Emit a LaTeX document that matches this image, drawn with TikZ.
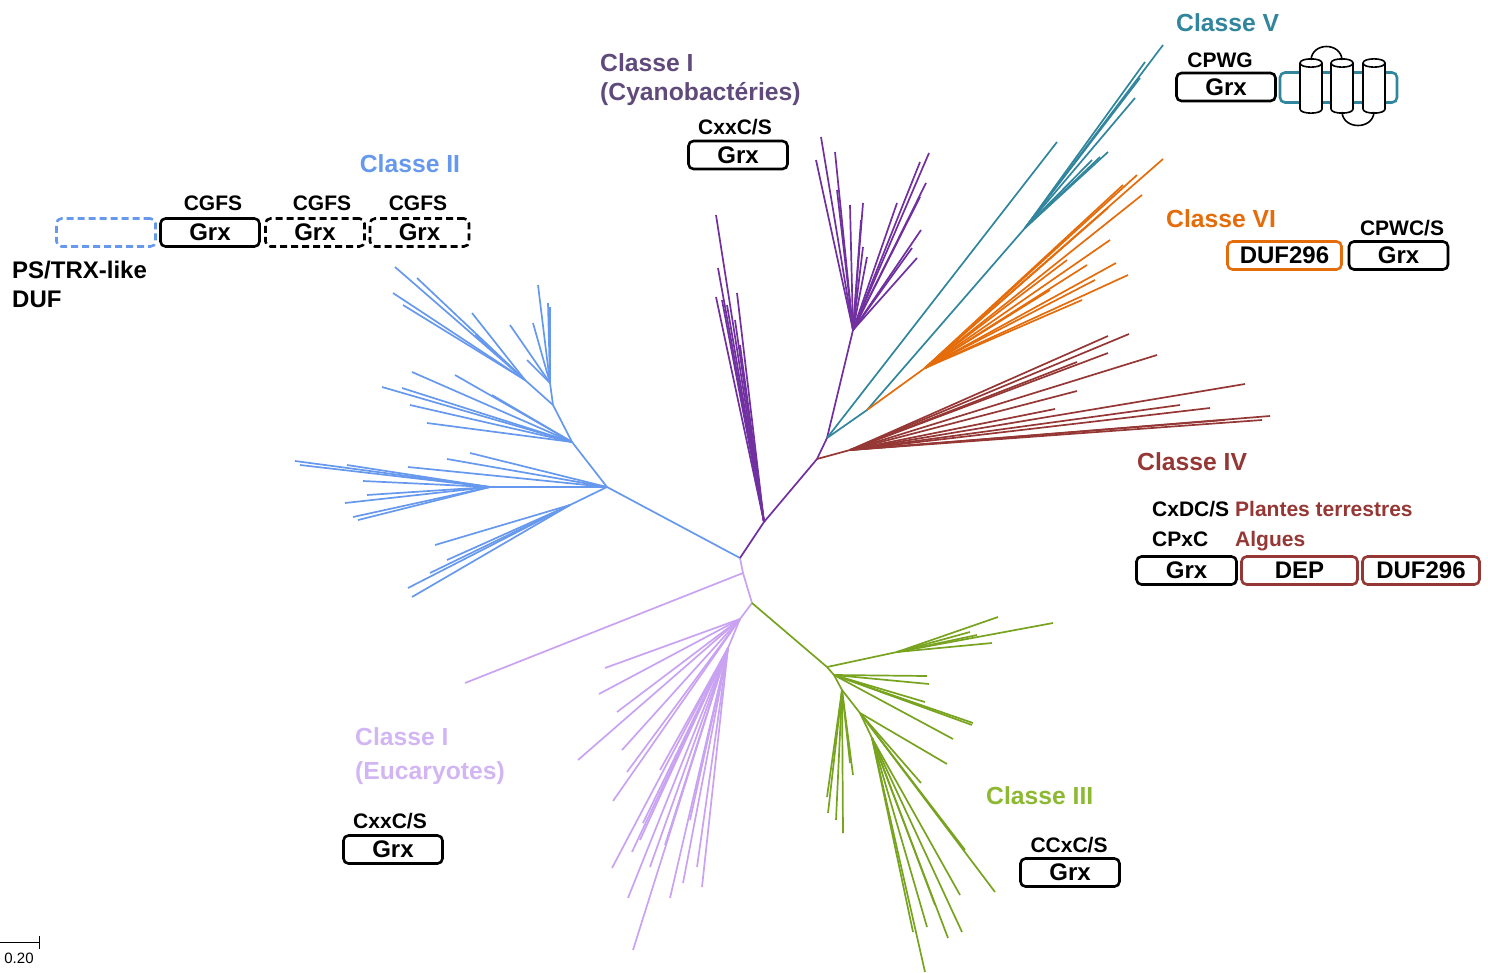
\documentclass[tikz,border=0pt]{standalone}
\usepackage{fontspec}
\setmainfont{Liberation Sans}
\definecolor{bleuII}{HTML}{6699EE}
\definecolor{lilasI}{HTML}{C9A2F2}
\definecolor{lilasTxt}{HTML}{D2B6F4}
\definecolor{violetI}{HTML}{7030A0}
\definecolor{violetTxt}{HTML}{604A7B}
\definecolor{bleuV}{HTML}{31859C}
\definecolor{orangeVI}{HTML}{E46C0A}
\definecolor{rougeIV}{HTML}{953735}
\definecolor{vertIII}{HTML}{77A31F}
\definecolor{vertTxt}{HTML}{8DB832}

\begin{document}
\begin{tikzpicture}[x=1pt,y=-1pt,
	branche/.style={line width=1.7pt},
	domaine/.style={draw,rounded corners=5pt,line width=2.6pt,minimum width=99pt,minimum height=28pt,inner sep=0pt,font=\fontsize{24}{28}\bfseries},
	pointille/.style={dash pattern=on 7pt off 4pt},
	classe/.style={inner sep=0pt,font=\fontsize{24.7}{29}\bfseries},
	motif/.style={inner sep=0pt,font=\fontsize{21}{25}\bfseries}]

	\useasboundingbox (0,0) rectangle (1488,972);

	% arbre
	\coordinate (A) at (740,558);
	\coordinate (B1) at (607,487);
	\coordinate (B2) at (572,442);
	\coordinate (B3) at (553,405);
	\coordinate (B4) at (525,380);
	\coordinate (B5) at (550,383);
	\coordinate (B6) at (490,487);
	\coordinate (B7) at (570,505);
	\coordinate (L1) at (743,573);
	\coordinate (L2) at (752,603);
	\coordinate (L3) at (740,619);
	\coordinate (L4) at (728,648);
	\coordinate (G1) at (827,667);
	\coordinate (G1a) at (897,652);
	\coordinate (G2) at (834,675);
	\coordinate (G3) at (842,690);
	\coordinate (G4) at (860,713);
	\coordinate (G5) at (872,738);
	\coordinate (C1) at (764,522);
	\coordinate (C2) at (817,459);
	\coordinate (C3) at (827,438);
	\coordinate (C4) at (853,330);
	\coordinate (T0) at (867,410);
	\coordinate (T1) at (1025,228);
	\coordinate (O1) at (925,368);
	\coordinate (R1) at (850,450);

	\begin{scope}[branche,draw=bleuII]
		\draw (A) -- (B1) -- (B2) -- (B3) -- (B4);
		\draw (B3) -- (B5);
		\draw (B1) -- (B6);
		\draw (B1) -- (B7);
		\foreach \x/\y in {395/267,417/278,393/293,403/305,472/313,475/335}
			\draw (B4) -- (\x,\y);
		\foreach \x/\y in {510/325,538/285,548/303,550/307,527/360,533/323}
			\draw (B5) -- (\x,\y);
		\foreach \x/\y in {412/372,382/387,402/388,410/405,427/423,455/375,492/395}
			\draw (B2) -- (\x,\y);
		\foreach \x/\y in {470/453,447/459,408/467}
			\draw (B1) -- (\x,\y);
		\foreach \x/\y in {295/461,300/465,347/465,363/481,345/503,353/517,358/520,367/495}
			\draw (B6) -- (\x,\y);
		\foreach \x/\y in {435/545,447/560,430/573,408/588,412/597}
			\draw (B7) -- (\x,\y);
	\end{scope}

	\begin{scope}[branche,draw=lilasI]
		\draw (A) -- (L1) -- (L2) -- (L3) -- (L4);
		\draw (L1) -- (465,683);
		\foreach \x/\y in {605/668,599/694,617/712,578/760,622/750,627/772,613/801}
			\draw (L3) -- (\x,\y);
		\foreach \x/\y in {632/852,612/868,628/898,670/898,633/950,702/887,697/867,683/883,660/770,643/823,650/867,640/840,665/845,690/820}
			\draw (L4) -- (\x,\y);
	\end{scope}

	\begin{scope}[branche,draw=vertIII]
		\draw (L2) -- (G1) -- (G2) -- (G3) -- (G4) -- (G5);
		\draw (G1) -- (G1a);
		\foreach \x/\y in {998/617,992/643,977/635,970/632,1053/623}
			\draw (G1a) -- (\x,\y);
		\foreach \x/\y in {927/676,929/684,925/702,973/723,972/725,953/739}
			\draw (G2) -- (\x,\y);
		\foreach \x/\y in {827/797,828/813,836/820,843/833,853/775,850/763}
			\draw (G3) -- (\x,\y);
		\foreach \x/\y in {947/764,921/783,965/850,995/892}
			\draw (G4) -- (\x,\y);
		\foreach \x/\y in {960/895,948/938,962/932,925/972,913/932,927/927,935/905}
			\draw (G5) -- (\x,\y);
	\end{scope}

	\begin{scope}[branche,draw=violetI]
		\draw (A) -- (C1) -- (C2) -- (C3) -- (C4);
		\foreach \x/\y in {716/215,718/268,716/297,722/300,737/293,735/320,740/345,727/305}
			\draw (C1) -- (\x,\y);
		\foreach \x/\y in {821/137,816/160,835/152,837/190,850/205,863/203,861/220,863/247,867/257,920/162,929/153,926/183,920/197,921/230,917/258,912/248,897/203}
			\draw (C4) -- (\x,\y);
	\end{scope}

	\begin{scope}[branche,draw=bleuV]
		\draw (C3) -- (1057,142);
		\draw (C3) -- (T0) -- (T1);
		\foreach \x/\y in {1163/45,1145/62,1140/78,1135/98,1108/152,1100/157,1092/160}
			\draw (T1) -- (\x,\y);
	\end{scope}

	\begin{scope}[branche,draw=orangeVI]
		\draw (T0) -- (O1);
		\foreach \x/\y in {1163/159,1142/195,1137/175,1110/240,1116/263,1128/275,1087/265,1082/300,1067/260,1050/290,1108/208,1123/185,1095/280}
			\draw (O1) -- (\x,\y);
	\end{scope}

	\begin{scope}[branche,draw=rougeIV]
		\draw (C2) -- (R1);
		\foreach \x/\y in {1108/336,1129/334,1108/353,1157/355,1077/362,1077/391,1055/409,1245/384,1270/416,1262/420,1225/420,1210/408,1180/405}
			\draw (R1) -- (\x,\y);
	\end{scope}

	% echelle
	\draw[line width=1pt] (0,942) -- (39,942);
	\draw[line width=1pt] (39,936) -- (39,949);
	\node[inner sep=0pt,font=\fontsize{15}{18}\selectfont] (echelle) at (19,958) {0.20};

	% classe II
	\node[classe,text=bleuII,anchor=base] (c2) at (410,172) {Classe II};
	\node[domaine,draw=bleuII,pointille] (ps) at (106,232.5) {};
	\node[domaine] (grx2a) at (210,232.5) {Grx};
	\node[domaine,pointille] (grx2b) at (315,232.5) {Grx};
	\node[domaine,pointille] (grx2c) at (419.5,232.5) {Grx};
	\node[motif,anchor=base] (m2a) at (213,210) {CGFS};
	\node[motif,anchor=base] (m2b) at (322,210) {CGFS};
	\node[motif,anchor=base] (m2c) at (418,210) {CGFS};
	\node[inner sep=0pt,font=\fontsize{24}{28}\bfseries,anchor=base west] (ps1) at (12,278) {PS/TRX-like};
	\node[inner sep=0pt,font=\fontsize{24}{28}\bfseries,anchor=base west] (ps2) at (12,307) {DUF};

	% classe I cyanobacteries
	\node[classe,text=violetTxt,anchor=base west] (c1a) at (600,71) {Classe I};
	\node[classe,text=violetTxt,anchor=base west] (c1b) at (600,100) {(Cyanobactéries)};
	\node[motif,anchor=base] (m1) at (735,134) {CxxC/S};
	\node[domaine] (grx1) at (738,155) {Grx};

	% classe V
	\node[classe,text=bleuV,anchor=base west] (c5) at (1176,31) {Classe V};
	\node[motif,anchor=base] (m5) at (1220,67) {CPWG};
	\node[domaine] (grx5) at (1226,87) {Grx};
	\node[domaine,draw=bleuV,minimum width=117pt,minimum height=30pt] (tm) at (1338.5,87.5) {};
	\foreach \h in {1311,1342,1374} {
		\filldraw[fill=white,line width=1.6pt] (\h-11,63) -- (\h-11,109) .. controls (\h-11,114.5) and (\h+11,114.5) .. (\h+11,109) -- (\h+11,63) .. controls (\h+11,57.5) and (\h-11,57.5) .. cycle;
		\draw[line width=1.6pt] (\h-11,63) .. controls (\h-11,68.5) and (\h+11,68.5) .. (\h+11,63);
	}
	\draw[line width=1.6pt] (1311,60) .. controls (1312,42) and (1341,42) .. (1342,60);
	\draw[line width=1.6pt] (1342,112) .. controls (1343,130) and (1373,130) .. (1374,112);

	% classe VI
	\node[classe,text=orangeVI,anchor=base west] (c6) at (1166,227) {Classe VI};
	\node[motif,anchor=base] (m6) at (1402,235) {CPWC/S};
	\node[domaine,draw=orangeVI,minimum width=114pt] (duf6) at (1284.5,255.5) {DUF296};
	\node[domaine] (grx6) at (1398.5,255.5) {Grx};

	% classe IV
	\node[classe,text=rougeIV,anchor=base west] (c4) at (1137,470) {Classe IV};
	\node[motif,anchor=base west] (m4a) at (1152,516) {CxDC/S};
	\node[motif,text=rougeIV,anchor=base west] (p4a) at (1235,516) {Plantes terrestres};
	\node[motif,anchor=base west] (m4b) at (1152,546) {CPxC};
	\node[motif,text=rougeIV,anchor=base west] (p4b) at (1235,546) {Algues};
	\node[domaine,minimum width=100pt] (grx4) at (1186.5,570.5) {Grx};
	\node[domaine,draw=rougeIV,minimum width=116pt] (dep4) at (1299.5,570.5) {DEP};
	\node[domaine,draw=rougeIV,minimum width=117pt] (duf4) at (1421,570.5) {DUF296};

	% classe I eucaryotes
	\node[classe,text=lilasTxt,anchor=base west] (c1c) at (355,745) {Classe I};
	\node[classe,text=lilasTxt,anchor=base west] (c1d) at (355,779) {(Eucaryotes)};
	\node[motif,anchor=base] (m1e) at (390,828) {CxxC/S};
	\node[domaine] (grx1e) at (393,849.5) {Grx};

	% classe III
	\node[classe,text=vertTxt,anchor=base west] (c3) at (986,804) {Classe III};
	\node[motif,anchor=base] (m3) at (1069,852) {CCxC/S};
	\node[domaine] (grx3) at (1070,872.5) {Grx};

\end{tikzpicture}
\end{document}
